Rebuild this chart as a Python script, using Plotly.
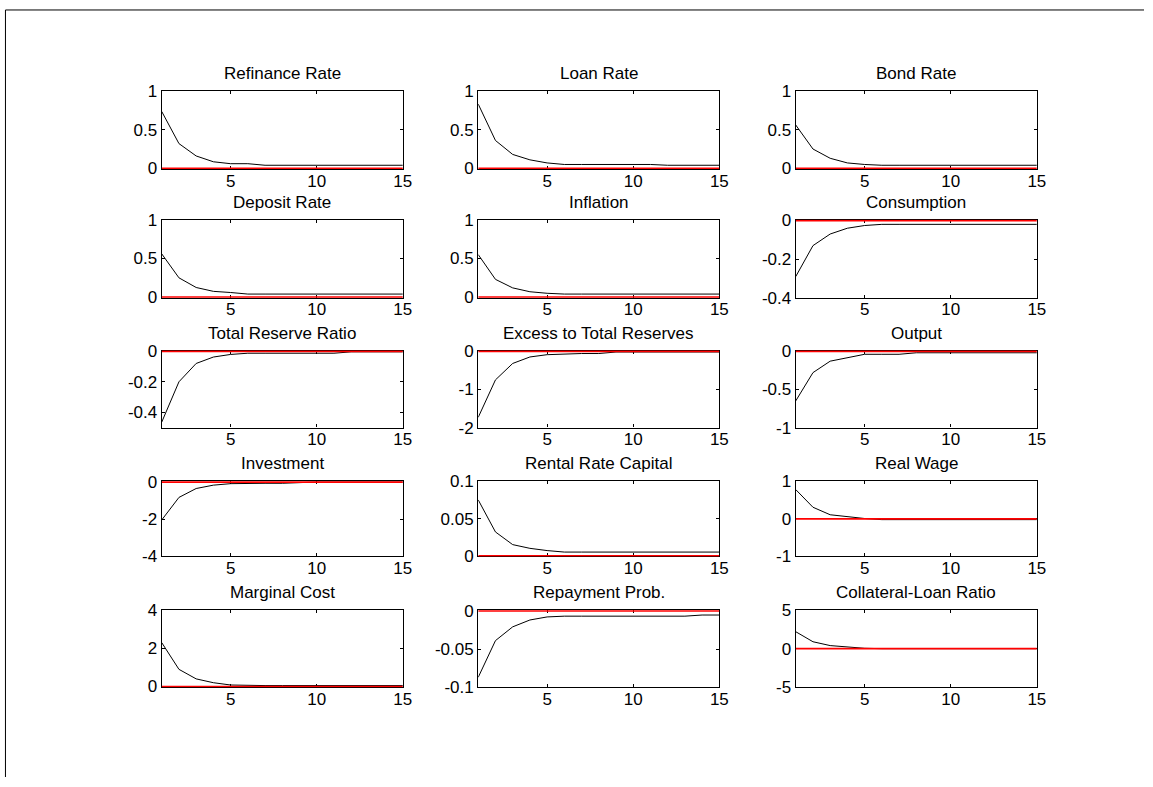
import plotly.graph_objects as go

periods = list(range(1, 16))

titles = [
    "Refinance Rate", "Loan Rate", "Bond Rate",
    "Deposit Rate", "Inflation", "Consumption",
    "Total Reserve Ratio", "Excess to Total Reserves", "Output",
    "Investment", "Rental Rate Capital", "Real Wage",
    "Marginal Cost", "Repayment Prob.", "Collateral-Loan Ratio",
]

refinance_rate = [0.735, 0.32, 0.16, 0.085, 0.06, 0.06, 0.04, 0.04, 0.04, 0.04, 0.04, 0.04, 0.04, 0.04, 0.04]
loan_rate = [0.83, 0.36, 0.18, 0.11, 0.07, 0.05, 0.05, 0.05, 0.05, 0.05, 0.05, 0.04, 0.04, 0.04, 0.04]
bond_rate = [0.56, 0.25, 0.13, 0.07, 0.05, 0.04, 0.04, 0.04, 0.04, 0.04, 0.04, 0.04, 0.04, 0.04, 0.04]
deposit_rate = [0.56, 0.25, 0.125, 0.075, 0.06, 0.04, 0.04, 0.04, 0.04, 0.04, 0.04, 0.04, 0.04, 0.04, 0.04]
inflation = [0.55, 0.23, 0.12, 0.07, 0.05, 0.04, 0.04, 0.04, 0.04, 0.04, 0.04, 0.04, 0.04, 0.04, 0.04]
consumption = [-0.29, -0.13, -0.07, -0.04, -0.026, -0.02, -0.02, -0.02, -0.02, -0.02, -0.02, -0.02, -0.02, -0.02, -0.02]
total_reserve_ratio = [-0.464, -0.2, -0.08, -0.038, -0.021, -0.013, -0.013, -0.013, -0.013, -0.013, -0.013, -0.004, -0.004, -0.004, -0.004]
excess_reserves = [-1.73, -0.75, -0.32, -0.15, -0.09, -0.07, -0.06, -0.06, -0.02, -0.02, -0.02, -0.02, -0.02, -0.02, -0.02]
output = [-0.65, -0.28, -0.13, -0.08, -0.04, -0.04, -0.04, -0.02, -0.02, -0.02, -0.02, -0.02, -0.02, -0.02, -0.02]
investment = [-2.04, -0.83, -0.35, -0.17, -0.09, -0.07, -0.07, -0.07, -0.02, 0.0, 0.0, 0.0, 0.0, 0.0, 0.0]
rental_rate_capital = [0.075, 0.032, 0.015, 0.01, 0.007, 0.005, 0.005, 0.005, 0.005, 0.005, 0.005, 0.005, 0.005, 0.005, 0.005]
real_wage = [0.78, 0.31, 0.11, 0.05, 0.01, -0.02, -0.02, -0.02, -0.02, -0.02, -0.02, -0.02, -0.02, -0.02, -0.02]
marginal_cost = [2.3, 0.9, 0.4, 0.2, 0.08, 0.05, 0.05, 0.05, 0.05, 0.05, 0.05, 0.05, 0.05, 0.05, 0.05]
repayment_prob = [-0.087, -0.039, -0.021, -0.012, -0.008, -0.007, -0.007, -0.007, -0.007, -0.007, -0.007, -0.007, -0.007, -0.0055, -0.0055]
collateral_loan_ratio = [2.2, 0.9, 0.4, 0.2, 0.05, 0.0, 0.0, 0.0, 0.0, 0.0, 0.0, 0.0, 0.0, 0.0, 0.0]

series = [
    refinance_rate, loan_rate, bond_rate,
    deposit_rate, inflation, consumption,
    total_reserve_ratio, excess_reserves, output,
    investment, rental_rate_capital, real_wage,
    marginal_cost, repayment_prob, collateral_loan_ratio,
]

y_ranges = [
    [0, 1], [0, 1], [0, 1],
    [0, 1], [0, 1], [-0.4, 0],
    [-0.5, 0], [-2, 0], [-1, 0],
    [-4, 0], [0, 0.1], [-1, 1],
    [0, 4], [-0.1, 0], [-5, 5],
]

y_ticks = [
    [0, 0.5, 1], [0, 0.5, 1], [0, 0.5, 1],
    [0, 0.5, 1], [0, 0.5, 1], [-0.4, -0.2, 0],
    [-0.4, -0.2, 0], [-2, -1, 0], [-1, -0.5, 0],
    [-4, -2, 0], [0, 0.05, 0.1], [-1, 0, 1],
    [0, 2, 4], [-0.1, -0.05, 0], [-5, 0, 5],
]
y_tick_text = [
    ["0", "0.5", "1"], ["0", "0.5", "1"], ["0", "0.5", "1"],
    ["0", "0.5", "1"], ["0", "0.5", "1"], ["-0.4", "-0.2", "0"],
    ["-0.4", "-0.2", "0"], ["-2", "-1", "0"], ["-1", "-0.5", "0"],
    ["-4", "-2", "0"], ["0", "0.05", "0.1"], ["-1", "0", "1"],
    ["0", "2", "4"], ["-0.1", "-0.05", "0"], ["-5", "0", "5"],
]

x_ticks = [5, 10, 15]

W, H = 1153, 787
col_px = [(163, 406), (482, 725), (802, 1045)]
row_px = [(84, 164), (216, 296), (350, 429), (484, 561), (616, 695)]

FONT = "Liberation Sans, Arial, Helvetica, sans-serif"
FS = 17

fig = go.Figure()
layout = dict(
    width=W, height=H,
    margin=dict(l=0, r=0, t=0, b=0),
    paper_bgcolor="white", plot_bgcolor="white",
    showlegend=False,
    font=dict(family=FONT, size=FS, color="black"),
    annotations=[], shapes=[],
)

for i in range(15):
    r, c = divmod(i, 3)
    n = i + 1
    xa = "x" if n == 1 else f"x{n}"
    ya = "y" if n == 1 else f"y{n}"
    x0, x1 = col_px[c]
    t0, t1 = row_px[r]
    xdom = [x0 / W, x1 / W]
    ydom = [1 - t1 / H, 1 - t0 / H]

    # keep the zero reference line just inside the box when it sits on an edge
    lo, hi = y_ranges[i]
    pad = (hi - lo) * 0.009
    rng = [lo - pad if lo == 0 else lo, hi + pad if hi == 0 else hi]

    axis_common = dict(
        showline=True, linecolor="black", linewidth=1.3, mirror="ticks",
        ticks="inside", ticklen=3, tickwidth=1, tickcolor="black",
        showgrid=False, zeroline=False, layer="below traces",
        tickfont=dict(family=FONT, size=FS, color="black"),
    )
    layout["xaxis" if n == 1 else f"xaxis{n}"] = dict(
        axis_common, domain=xdom, range=[1, 15], tickvals=x_ticks,
        ticktext=[str(v) for v in x_ticks], anchor=ya,
        ticklabelstandoff=-4,
    )
    layout["yaxis" if n == 1 else f"yaxis{n}"] = dict(
        axis_common, domain=ydom, range=rng, tickvals=y_ticks[i],
        ticktext=y_tick_text[i], anchor=xa,
    )

    fig.add_trace(go.Scatter(
        x=periods, y=series[i], mode="lines",
        line=dict(color="black", width=1), xaxis=xa, yaxis=ya,
        hoverinfo="skip",
    ))
    fig.add_trace(go.Scatter(
        x=[periods[0], periods[-1]], y=[0, 0], mode="lines",
        line=dict(color="red", width=1.8), xaxis=xa, yaxis=ya,
        hoverinfo="skip",
    ))

    layout["annotations"].append(dict(
        text=titles[i], xref="paper", yref="paper",
        x=(xdom[0] + xdom[1]) / 2, y=ydom[1] + 6 / H,
        xanchor="center", yanchor="bottom", showarrow=False,
        font=dict(family=FONT, size=FS, color="black"),
    ))

# figure frame lines (left and top edges)
layout["shapes"].append(dict(
    type="line", xref="paper", yref="paper",
    x0=5.5 / W, x1=5.5 / W, y0=0, y1=1 - 1 / H,
    line=dict(color="black", width=1),
))
layout["shapes"].append(dict(
    type="line", xref="paper", yref="paper",
    x0=5.5 / W, x1=1, y0=1 - 1 / H, y1=1 - 1 / H,
    line=dict(color="black", width=1),
))

fig.update_layout(**layout)

# place the figure flush with the page corner
fig.write_html(
    "out.html",
    config={"displayModeBar": False},
    post_script="document.body.style.margin = '0px';",
)
